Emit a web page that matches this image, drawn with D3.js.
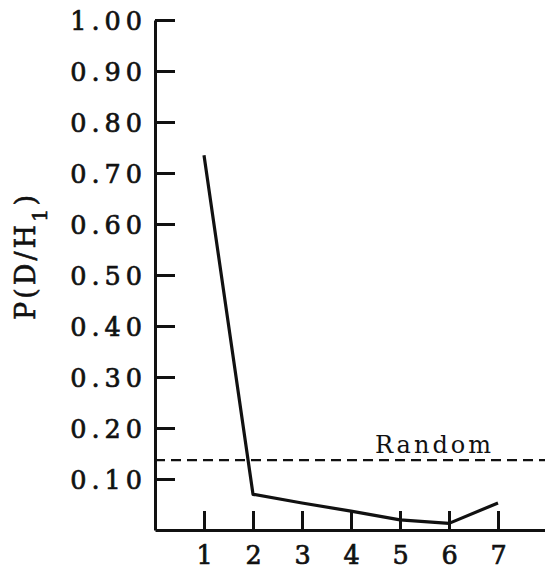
<!DOCTYPE html>
<html>
<head>
<meta charset="utf-8">
<script src="https://cdn.jsdelivr.net/npm/d3@7"></script>
<style>
  body { margin: 0; background: #fff; }
  text { font-family: "DejaVu Serif", serif; fill: #111; }
</style>
</head>
<body>
<div id="chart"></div>
<script>
// values
const positions = [1, 2, 3, 4, 5, 6, 7];
const probabilities = [0.735, 0.07, 0.053, 0.037, 0.02, 0.013, 0.053];
const yTicks = [0.1, 0.2, 0.3, 0.4, 0.5, 0.6, 0.7, 0.8, 0.9, 1.0];
const randomLevel = 0.137;

const width = 545, height = 575;

const svg = d3.select("#chart")
  .append("svg")
  .attr("width", width)
  .attr("height", height);

// scales
const x = d3.scaleLinear().domain([0, 8]).range([155, 547]);
const y = d3.scaleLinear().domain([0, 1]).range([530, 20]);

// y axis, ticks point inward
const yAxis = svg.append("g")
  .attr("transform", "translate(155,0)")
  .call(d3.axisLeft(y)
    .tickValues(yTicks)
    .tickFormat(d3.format(".2f"))
    .tickSizeInner(-20)
    .tickSizeOuter(0)
    .tickPadding(8));

yAxis.select(".domain").attr("stroke-width", 3).attr("stroke", "#111");
yAxis.selectAll(".tick line").attr("stroke-width", 3).attr("stroke", "#111");
yAxis.selectAll(".tick text")
  .style("font-size", "25.5px")
  .style("letter-spacing", "5px")
  .attr("stroke", "#111")
  .attr("stroke-width", 0.7)
  .attr("dy", "0.36em");

// x axis, ticks point up
const xAxis = svg.append("g")
  .attr("transform", "translate(0,530)")
  .call(d3.axisBottom(x)
    .tickValues(positions)
    .tickFormat(d3.format("d"))
    .tickSizeInner(-19)
    .tickSizeOuter(0)
    .tickPadding(16));

xAxis.select(".domain").attr("stroke-width", 3).attr("stroke", "#111");
xAxis.selectAll(".tick line").attr("stroke-width", 3).attr("stroke", "#111");
xAxis.selectAll(".tick text")
  .style("font-size", "25.5px")
  .attr("stroke", "#111")
  .attr("stroke-width", 0.7);

// random baseline
svg.append("line")
  .attr("x1", x(0))
  .attr("x2", width)
  .attr("y1", y(randomLevel))
  .attr("y2", y(randomLevel))
  .attr("stroke", "#111")
  .attr("stroke-width", 2.2)
  .attr("stroke-dasharray", "10,6");

svg.append("text")
  .attr("x", 375)
  .attr("y", y(randomLevel) - 7)
  .style("font-size", "24px")
  .style("letter-spacing", "3px")
  .text("Random");

// data line
const line = d3.line()
  .x((d, i) => x(positions[i]))
  .y(d => y(d));

svg.append("path")
  .datum(probabilities)
  .attr("d", line)
  .attr("fill", "none")
  .attr("stroke", "#111")
  .attr("stroke-width", 3.2)
  .attr("stroke-linejoin", "round");

// y axis label
const yLabel = svg.append("text")
  .attr("transform", "translate(35,256) rotate(-90)")
  .attr("text-anchor", "middle")
  .style("font-size", "27px")
  .style("letter-spacing", "3px")
  .attr("stroke", "#111")
  .attr("stroke-width", 0.6);

yLabel.append("tspan").text("P(D/H");
yLabel.append("tspan").attr("dy", 12).style("font-size", "21px").text("1");
yLabel.append("tspan").attr("dy", -12).text(")");
</script>
</body>
</html>
